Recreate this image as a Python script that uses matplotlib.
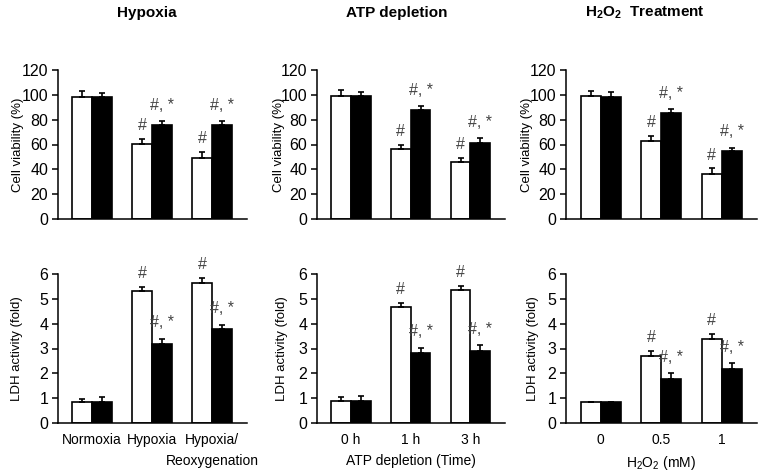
import matplotlib
matplotlib.use("Agg")
import matplotlib.pyplot as plt
import numpy as np

plt.rcParams['font.family'] = ['Liberation Sans', 'DejaVu Sans']
plt.rcParams['mathtext.fontset'] = 'custom'
plt.rcParams['mathtext.rm'] = 'Liberation Sans'
plt.rcParams['mathtext.bf'] = 'Liberation Sans:bold'
plt.rcParams['mathtext.default'] = 'regular'

# ---- data ----
titles = ["Hypoxia", "ATP depletion", r"H$_\mathbf{2}$O$_\mathbf{2}$  Treatment"]
xticklabels = [["Normoxia", "Hypoxia", "Hypoxia/"],
               ["0 h", "1 h", "3 h"],
               ["0", "0.5", "1"]]
second_line = ["Reoxygenation", "", ""]
xlabels = ["", "ATP depletion (Time)", r"H$_2$O$_2$ (mM)"]

# cell viability (%) : white = control, black = treated
via_white = [[98, 60.5, 49.5], [99, 56.5, 46], [99, 63.2, 36.5]]
via_white_err = [[5, 4, 4.5], [5, 3.5, 3.5], [4, 3.8, 4.5]]
via_black = [[98, 75.7, 75.7], [98.7, 87.5, 61], [98.4, 85.5, 54.5]]
via_black_err = [[3.5, 3.3, 3.3], [3.5, 3.5, 4], [4, 3, 3]]
via_white_mark = [["", "#", "#"], ["", "#", "#"], ["", "#", "#"]]
via_black_mark = [["", "#, *", "#, *"], ["", "#, *", "#, *"], ["", "#, *", "#, *"]]

# LDH activity (fold)
ldh_white = [[0.84, 5.31, 5.65], [0.88, 4.66, 5.35], [0.86, 2.7, 3.4]]
ldh_white_err = [[0.14, 0.17, 0.19], [0.17, 0.19, 0.17], [0.0, 0.2, 0.2]]
ldh_black = [[0.84, 3.2, 3.78], [0.9, 2.8, 2.9], [0.86, 1.77, 2.17]]
ldh_black_err = [[0.19, 0.2, 0.18], [0.17, 0.23, 0.23], [0.0, 0.23, 0.23]]
ldh_white_mark = [["", "#", "#"], ["", "#", "#"], ["", "#", "#"]]
ldh_black_mark = [["", "#, *", "#, *"], ["", "#, *", "#, *"], ["", "#, *", "#, *"]]

W, H = 771, 475
fig = plt.figure(figsize=(W / 100, H / 100), dpi=100)

lefts = [58, 317, 566]
widths = [189, 188, 191]
tops = [70, 274]
axh = 149
ylab_off = [[40, 38, 39], [41, 35, 33]]
title_x = [147, 397, 645]

bw = 0.33
x = np.arange(3)


def draw(ax, white, werr, black, berr, wmark, bmark, ymax, ystep, ylabel, lab_off, width_px):
    ax.bar(x - bw / 2, white, bw, color="white", edgecolor="black", linewidth=1.2,
           yerr=[np.zeros(3), werr], error_kw=dict(ecolor="black", elinewidth=1.2, capsize=2.5, capthick=1.2))
    ax.bar(x + bw / 2, black, bw, color="black", edgecolor="black", linewidth=1.2,
           yerr=[np.zeros(3), berr], error_kw=dict(ecolor="black", elinewidth=1.2, capsize=2.5, capthick=1.2))
    for i in range(3):
        if wmark[i]:
            ax.annotate(wmark[i], (x[i] - bw / 2, white[i] + werr[i]), xytext=(0, 4),
                        textcoords="offset points", ha="center", va="bottom",
                        fontsize=11.5, color="#444444")
        if bmark[i]:
            ax.annotate(bmark[i], (x[i] + bw / 2, black[i] + berr[i]), xytext=(0, 6),
                        textcoords="offset points", ha="center", va="bottom",
                        fontsize=11.5, color="#444444")
    ax.set_xlim(-0.57, 2.58)
    ax.set_ylim(0, ymax)
    ax.set_yticks(np.arange(0, ymax + ystep / 2, ystep))
    ax.spines["top"].set_visible(False)
    ax.spines["right"].set_visible(False)
    ax.spines["left"].set_linewidth(1.1)
    ax.spines["bottom"].set_linewidth(1.1)
    ax.tick_params(axis="y", direction="out", length=4, width=1.1, labelsize=11.5, pad=3)
    ax.tick_params(axis="x", length=0, labelsize=10, pad=7)
    ax.set_ylabel(ylabel, fontsize=9.5)
    ax.yaxis.set_label_coords(-(lab_off - 6) / width_px, 0.5)


for p in range(3):
    ax = fig.add_axes([lefts[p] / W, 1 - (tops[0] + axh) / H, widths[p] / W, axh / H])
    draw(ax, via_white[p], via_white_err[p], via_black[p], via_black_err[p],
         via_white_mark[p], via_black_mark[p], 120, 20, "Cell viability (%)", ylab_off[0][p], widths[p])
    ax.set_xticks(x)
    ax.set_xticklabels([])

    ax = fig.add_axes([lefts[p] / W, 1 - (tops[1] + axh) / H, widths[p] / W, axh / H])
    draw(ax, ldh_white[p], ldh_white_err[p], ldh_black[p], ldh_black_err[p],
         ldh_white_mark[p], ldh_black_mark[p], 6, 1, "LDH activity (fold)", ylab_off[1][p], widths[p])
    ax.set_xticks(x)
    ax.set_xticklabels(xticklabels[p])
    if second_line[p]:
        ax.annotate(second_line[p], (2, 0), xycoords=("data", "axes fraction"),
                    xytext=(0, -22), textcoords="offset points", ha="center", va="top",
                    fontsize=10)
    if xlabels[p]:
        ax.set_xlabel(xlabels[p], fontsize=10, labelpad=5)

    fig.text(title_x[p] / W, 1 - 13 / H, titles[p], ha="center", va="center",
             fontsize=11, fontweight="bold")

fig.savefig("out.png", dpi=100)
